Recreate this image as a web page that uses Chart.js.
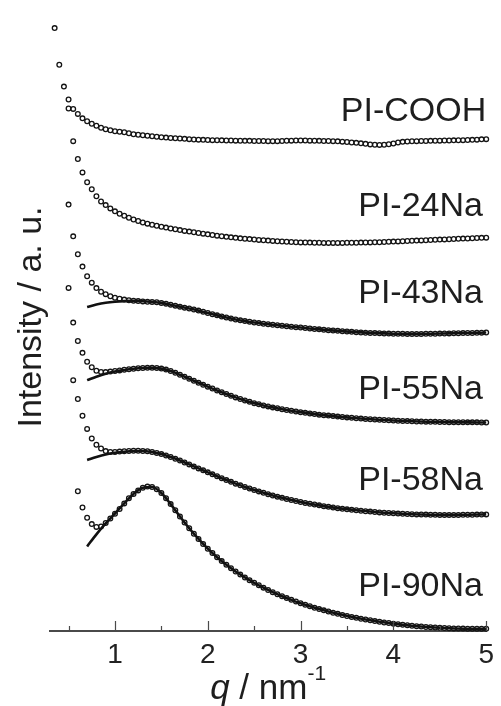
<!DOCTYPE html>
<html>
<head>
<meta charset="utf-8">
<title>SAXS profiles</title>
<script src="https://cdn.jsdelivr.net/npm/chart.js@4.4.1/dist/chart.umd.min.js"></script>
<style>
  html, body { margin: 0; padding: 0; background: #fff; }
  canvas { display: block; }
</style>
</head>
<body>
<canvas id="saxsChart" width="501" height="706"></canvas>
<script>
// scattering vector q (nm^-1), shared by all measured curves
const qValues = [
  0.35, 0.40, 0.45, 0.50, 0.55, 0.60, 0.65, 0.70, 0.75, 0.80,
  0.85, 0.90, 0.95, 1.00, 1.05, 1.10, 1.15, 1.20, 1.25, 1.30,
  1.35, 1.40, 1.45, 1.50, 1.55, 1.60, 1.65, 1.70, 1.75, 1.80,
  1.85, 1.90, 1.95, 2.00, 2.05, 2.10, 2.15, 2.20, 2.25, 2.30,
  2.35, 2.40, 2.45, 2.50, 2.55, 2.60, 2.65, 2.70, 2.75, 2.80,
  2.85, 2.90, 2.95, 3.00, 3.05, 3.10, 3.15, 3.20, 3.25, 3.30,
  3.35, 3.40, 3.45, 3.50, 3.55, 3.60, 3.65, 3.70, 3.75, 3.80,
  3.85, 3.90, 3.95, 4.00, 4.05, 4.10, 4.15, 4.20, 4.25, 4.30,
  4.35, 4.40, 4.45, 4.50, 4.55, 4.60, 4.65, 4.70, 4.75, 4.80,
  4.85, 4.90, 4.95, 5.00
];

// measured intensities (a.u., curves shifted vertically)
const piCOOH = [
  608, 571, 549, 536, 526.5, 521.5, 517, 514, 511.5, 509.5,
  507.5, 506, 505, 504, 503.5, 503, 502, 501, 500.5, 500,
  499.5, 499, 498.5, 498, 497.6, 497.2, 496.9, 496.6, 496.3, 496,
  495.7, 495.5, 495.3, 495.1, 495, 494.9, 494.8, 494.7, 494.6, 494.5,
  494.4, 494.3, 494.3, 494.2, 494.2, 494.1, 494, 494, 494, 494.2,
  494.4, 494.5, 494.6, 494.7, 494.6, 494.5, 494.4, 494.3, 494.2, 494.1,
  494, 493.8, 493.5, 493.1, 492.7, 492.3, 491.8, 491.3, 490.7, 490.3,
  490.2, 490.4, 490.8, 491.7, 492.7, 493.3, 493.7, 493.9, 494, 494.1,
  494.2, 494.3, 494.4, 494.5, 494.6, 494.7, 494.8, 494.9, 495, 495.1,
  495.3, 495.5, 495.8, 496
];
const pi24Na = [
  null, null, null, 527, 494, 476, 462.5, 452.5, 445.5, 438.5,
  433.2, 429.5, 426.2, 423.2, 420.8, 418.7, 416.8, 415, 413.4, 412,
  410.8, 409.7, 408.7, 407.7, 406.8, 405.9, 405.1, 404.3, 403.5, 402.8,
  402.1, 401.4, 400.7, 400, 399.3, 398.7, 398.1, 397.5, 397, 396.5,
  396, 395.6, 395.2, 394.8, 394.4, 394, 393.7, 393.4, 393.1, 392.8,
  392.5, 392.3, 392.1, 391.9, 391.8, 391.7, 391.6, 391.5, 391.4, 391.4,
  391.4, 391.4, 391.4, 391.5, 391.5, 391.6, 391.7, 391.8, 391.9, 392,
  392.1, 392.3, 392.5, 392.7, 392.9, 393.1, 393.3, 393.5, 393.7, 393.9,
  394.1, 394.3, 394.5, 394.7, 394.9, 395.1, 395.3, 395.5, 395.7, 395.9,
  396.1, 396.3, 396.5, 396.7
];
const pi43Na = [
  null, null, null, 430, 398, 380, 367.5, 357.7, 351.3, 345.8,
  342.1, 339.7, 337.6, 336, 335, 334.2, 333.6, 333.1, 332.7, 332.4,
  332.1, 331.9, 331.5, 330.9, 330.1, 329.1, 328.1, 327.1, 326.1, 325.2,
  324.2, 323.1, 321.9, 320.7, 319.5, 318.3, 317.2, 316.1, 315.1, 314.2,
  313.3, 312.5, 311.8, 311.1, 310.5, 309.9, 309.4, 308.9, 308.4, 307.9,
  307.4, 306.9, 306.4, 306, 305.5, 305, 304.6, 304.2, 303.8, 303.4,
  303, 302.7, 302.3, 302, 301.7, 301.4, 301.1, 300.8, 300.6, 300.4,
  300.2, 300, 299.9, 299.8, 299.7, 299.7, 299.6, 299.6, 299.6, 299.6,
  299.7, 299.7, 299.8, 299.9, 300, 300.1, 300.2, 300.3, 300.4, 300.5,
  300.6, 300.7, 300.9, 301
];
const pi55Na = [
  null, null, null, 346, 311, 292.5, 280.5, 271.5, 266, 262.5,
  261.3, 261.1, 261.6, 262.2, 262.8, 263.4, 264, 264.5, 264.9, 265.2,
  265.4, 265.4, 265.2, 264.6, 263.6, 262.2, 260.4, 258.4, 256.4, 254.4,
  252.4, 250.4, 248.4, 246.4, 244.5, 242.6, 240.8, 239, 237.3, 235.6,
  234, 232.5, 231.1, 229.8, 228.6, 227.5, 226.5, 225.5, 224.6, 223.7,
  222.9, 222.1, 221.4, 220.7, 220, 219.4, 218.8, 218.2, 217.7, 217.2,
  216.7, 216.2, 215.8, 215.4, 215, 214.6, 214.2, 213.9, 213.6, 213.3,
  213, 212.8, 212.5, 212.3, 212.1, 211.9, 211.7, 211.5, 211.3, 211.2,
  211.1, 211, 210.9, 210.8, 210.7, 210.6, 210.6, 210.5, 210.5, 210.4,
  210.4, 210.4, 210.3, 210.3
];
const pi58Na = [
  null, null, null, null, 253, 234, 217, 203.8, 194.2, 187.8,
  184, 181.4, 180.6, 180.6, 180.9, 181.3, 181.6, 181.8, 181.8, 181.6,
  181.2, 180.5, 179.6, 178.4, 177, 175.4, 173.7, 171.9, 170, 168,
  166, 164, 162, 160, 158, 156, 154.1, 152.2, 150.4, 148.6,
  146.9, 145.3, 143.7, 142.2, 140.8, 139.4, 138, 136.7, 135.5, 134.3,
  133.2, 132.1, 131.1, 130.1, 129.2, 128.3, 127.5, 126.7, 125.9, 125.2,
  124.5, 123.9, 123.3, 122.7, 122.2, 121.7, 121.2, 120.8, 120.4, 120,
  119.6, 119.3, 119, 118.7, 118.4, 118.2, 118, 117.8, 117.6, 117.5,
  117.4, 117.3, 117.2, 117.1, 117.1, 117.1, 117.1, 117.1, 117.2, 117.2,
  117.3, 117.4, 117.5, 117.6
];
const pi90Na = [
  null, null, null, null, null, 141, 124.5, 114.2, 107.8, 105,
  105.4, 109, 113.5, 118.2, 123, 128.7, 133.8, 138.2, 141.8, 144.4,
  145.6, 145.2, 143, 139.2, 134, 128, 121.7, 115.5, 109.4, 103.6,
  98, 92.8, 87.8, 83, 78.6, 74.4, 70.5, 66.8, 63.3, 60,
  56.9, 54, 51.2, 48.6, 46.1, 43.7, 41.4, 39.2, 37.1, 35.1,
  33.2, 31.4, 29.7, 28, 26.4, 24.9, 23.5, 22.1, 20.8, 19.6,
  18.4, 17.3, 16.2, 15.2, 14.2, 13.3, 12.4, 11.6, 10.8, 10,
  9.3, 8.6, 8, 7.4, 6.8, 6.3, 5.8, 5.3, 4.9, 4.5,
  4.1, 3.8, 3.5, 3.2, 3, 2.8, 2.6, 2.5, 2.4, 2.3,
  2.3, 2.3, 2.3, 2.3
];

// model fits (solid lines)
const fitQ = [
  0.7, 0.8, 0.9, 1.0, 1.1, 1.2, 1.3, 1.4, 1.5, 1.6,
  1.7, 1.8, 1.9, 2.0, 2.1, 2.2, 2.3, 2.4, 2.5, 2.6,
  2.7, 2.8, 2.9, 3.0, 3.2, 3.4, 3.6, 3.8, 4.0, 4.2,
  4.4, 4.6, 4.8, 5.0
];
const fit43Na = [
  326.7, 329.2, 331, 332.1, 332.7, 332.9, 332.6, 331.9, 330.9, 329.1,
  327.1, 325.2, 323.1, 320.7, 318.3, 316.1, 314.2, 312.5, 311.1, 309.9,
  308.9, 307.9, 306.9, 306, 304.2, 302.7, 301.4, 300.4, 299.8, 299.6,
  299.7, 300.1, 300.5, 301
];
const fit55Na = [
  253, 256.5, 259.5, 261.7, 263.2, 264.4, 265.2, 265.4, 264.6, 262.2,
  258.4, 254.4, 250.4, 246.4, 242.6, 239, 235.6, 232.5, 229.8, 227.5,
  225.5, 223.7, 222.1, 220.7, 218.2, 216.2, 214.6, 213.3, 212.3, 211.5,
  211, 210.6, 210.4, 210.3
];
const fit58Na = [
  172.5, 175.5, 178, 179.7, 180.8, 181.5, 181.6, 180.5, 178.4, 175.4,
  171.9, 168, 164, 160, 156, 152.2, 148.6, 145.3, 142.2, 139.4,
  136.7, 134.3, 132.1, 130.1, 126.7, 123.9, 121.7, 120, 118.7, 117.8,
  117.3, 117.1, 117.2, 117.6
];
const fit90Na = [
  85.3, 97.5, 108.5, 118.5, 128.7, 138.2, 144.4, 145.2, 139.2, 128,
  115.5, 103.6, 92.8, 83, 74.4, 66.8, 60, 54, 48.6, 43.7,
  39.2, 35.1, 31.4, 28, 22.1, 17.3, 13.3, 10, 7.4, 5.3,
  3.8, 2.8, 2.3, 2.3
];

const sampleNames = ["PI-COOH", "PI-24Na", "PI-43Na", "PI-55Na", "PI-58Na", "PI-90Na"];
const majorTicks = [1, 2, 3, 4, 5];
const minorTicks = [0.5, 1.5, 2.5, 3.5, 4.5];

const FONT = '"Liberation Sans", Arial, Helvetica, sans-serif';
Chart.defaults.font.family = FONT;

const toPoints = (xs, ys) =>
  xs.map((x, i) => ({ x: x, y: ys[i] })).filter((p) => p.y !== null);

const pointSet = (ys) => ({
  data: toPoints(qValues, ys),
  showLine: false,
  pointRadius: 2.35,
  pointBorderWidth: 1.3,
  pointBorderColor: "#141414",
  pointBackgroundColor: "rgba(255,255,255,0)",
  clip: 6,
  order: 1,
});

const fitSet = (ys) => ({
  data: toPoints(fitQ, ys),
  showLine: true,
  borderColor: "#111",
  borderWidth: 2.6,
  pointRadius: 0,
  cubicInterpolationMode: "monotone",
  clip: 6,
  order: 2,
});

// label anchors: [q at right edge, baseline intensity]
const labelSpots = [[5.0, 514], [4.965, 419], [4.965, 331], [4.965, 234], [4.965, 142], [4.965, 35]];

const decorPlugin = {
  id: "decor",
  afterDraw(chart) {
    const { ctx, chartArea } = chart;
    const xs = chart.scales.x;
    const ys = chart.scales.y;
    const base = chartArea.bottom;
    ctx.save();

    // inward tick marks
    ctx.strokeStyle = "#4a4a4a";
    ctx.lineWidth = 1.2;
    ctx.beginPath();
    majorTicks.forEach((v) => {
      const px = Math.round(xs.getPixelForValue(v)) + 0.5;
      ctx.moveTo(px, base);
      ctx.lineTo(px, base - 10);
    });
    minorTicks.forEach((v) => {
      const px = Math.round(xs.getPixelForValue(v)) + 0.5;
      ctx.moveTo(px, base);
      ctx.lineTo(px, base - 5);
    });
    ctx.stroke();

    // sample names
    ctx.fillStyle = "#1e1e1e";
    ctx.font = "34px " + FONT;
    ctx.textAlign = "right";
    ctx.textBaseline = "alphabetic";
    sampleNames.forEach((name, i) => {
      const [q, v] = labelSpots[i];
      ctx.fillText(name, xs.getPixelForValue(q), ys.getPixelForValue(v));
    });

    // x axis title: q / nm^-1
    ctx.textAlign = "left";
    const qFont = "italic 35px " + FONT;
    const mainFont = "35px " + FONT;
    const supFont = "21px " + FONT;
    ctx.font = qFont;
    const wq = ctx.measureText("q").width;
    ctx.font = mainFont;
    const wm = ctx.measureText(" / nm").width;
    ctx.font = supFont;
    const ws = ctx.measureText("-1").width;
    let tx = (chartArea.left + chartArea.right) / 2 - (wq + wm + ws) / 2;
    const ty = 699;
    ctx.font = qFont;
    ctx.fillText("q", tx, ty);
    tx += wq;
    ctx.font = mainFont;
    ctx.fillText(" / nm", tx, ty);
    tx += wm;
    ctx.font = supFont;
    ctx.fillText("-1", tx, ty - 19);

    // y axis title
    ctx.translate(41, 317);
    ctx.rotate(-Math.PI / 2);
    ctx.textAlign = "center";
    ctx.font = "34px " + FONT;
    ctx.fillText("Intensity / a. u.", 0, 0);

    ctx.restore();
  },
};

new Chart(document.getElementById("saxsChart"), {
  type: "scatter",
  data: {
    datasets: [
      pointSet(piCOOH),
      pointSet(pi24Na),
      pointSet(pi43Na),
      pointSet(pi55Na),
      pointSet(pi58Na),
      pointSet(pi90Na),
      fitSet(fit43Na),
      fitSet(fit55Na),
      fitSet(fit58Na),
      fitSet(fit90Na),
    ],
  },
  options: {
    responsive: false,
    animation: false,
    devicePixelRatio: 1,
    layout: { padding: { left: 50, right: 11, top: 0, bottom: 0 } },
    plugins: { legend: { display: false }, tooltip: { enabled: false } },
    scales: {
      x: {
        type: "linear",
        min: 0.3,
        max: 5,
        afterBuildTicks: (scale) => {
          scale.ticks = majorTicks.map((v) => ({ value: v }));
        },
        afterFit: (scale) => {
          scale.height = 75;
        },
        grid: { display: false, drawTicks: false },
        border: { display: true, color: "#4a4a4a", width: 2 },
        ticks: {
          color: "#222",
          font: { size: 28 },
          padding: 7,
          maxRotation: 0,
          callback: (v) => String(v),
        },
      },
      y: { display: false, min: 0, max: 631 },
    },
  },
  plugins: [decorPlugin],
});
</script>
</body>
</html>
